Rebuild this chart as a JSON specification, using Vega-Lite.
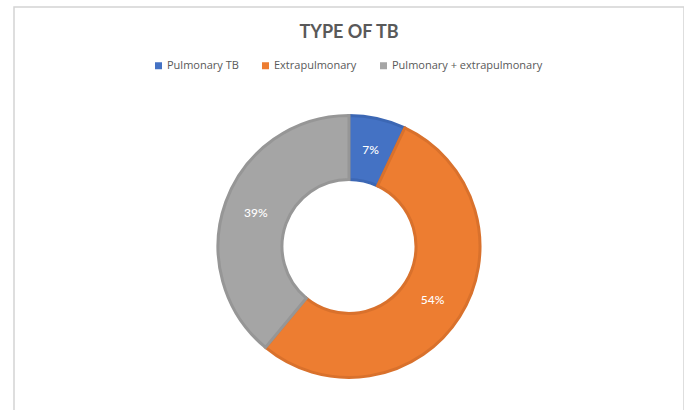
{
  "$schema": "https://vega.github.io/schema/vega-lite/v6.json",
  "width": 670,
  "height": 479,
  "autosize": {"type": "none"},
  "padding": {"left": 14, "top": 7, "right": 0, "bottom": 0},
  "background": "white",
  "view": {"stroke": "#d4d4d4", "strokeWidth": 1.5, "fill": "white"},
  "config": {
    "font": "Lato"
  },
  "title": {
    "text": "TYPE OF TB",
    "orient": "top",
    "anchor": "middle",
    "offset": -35,
    "fontSize": 18,
    "fontWeight": "bold",
    "color": "#595959",
    "font": "Lato"
  },
  "data": {
    "values": [
      {"type": "Pulmonary TB", "share": 7, "label": "7%", "ord": 1},
      {"type": "Extrapulmonary", "share": 54, "label": "54%", "ord": 2},
      {"type": "Pulmonary + extrapulmonary", "share": 39, "label": "39%", "ord": 3}
    ]
  },
  "encoding": {
    "theta": {"field": "share", "type": "quantitative", "stack": true},
    "order": {"field": "ord", "type": "quantitative"}
  },
  "layer": [
    {
      "mark": {"type": "arc", "outerRadius": 131, "innerRadius": 67, "strokeWidth": 3},
      "encoding": {
        "color": {
          "field": "type",
          "type": "nominal",
          "scale": {
            "domain": ["Pulmonary TB", "Extrapulmonary", "Pulmonary + extrapulmonary"],
            "range": ["#4472C4", "#ED7D31", "#A5A5A5"]
          },
          "legend": {
            "title": null,
            "orient": "none",
            "direction": "horizontal",
            "legendX": 139,
            "legendY": 53,
            "symbolType": "square",
            "symbolSize": 49,
            "symbolStrokeWidth": 0,
            "labelFontSize": 11,
            "labelColor": "#595959",
            "labelFont": "Open Sans",
            "labelOffset": 3,
            "columnPadding": 21
          }
        },
        "stroke": {
          "field": "type",
          "type": "nominal",
          "scale": {
            "domain": ["Pulmonary TB", "Extrapulmonary", "Pulmonary + extrapulmonary"],
            "range": ["#3C67B4", "#D9712C", "#969696"]
          },
          "legend": null
        }
      }
    },
    {
      "mark": {"type": "text", "radius": 99, "fontSize": 12, "fill": "white", "font": "Lato", "fontWeight": 500},
      "encoding": {
        "text": {"field": "label", "type": "nominal"}
      }
    }
  ]
}
